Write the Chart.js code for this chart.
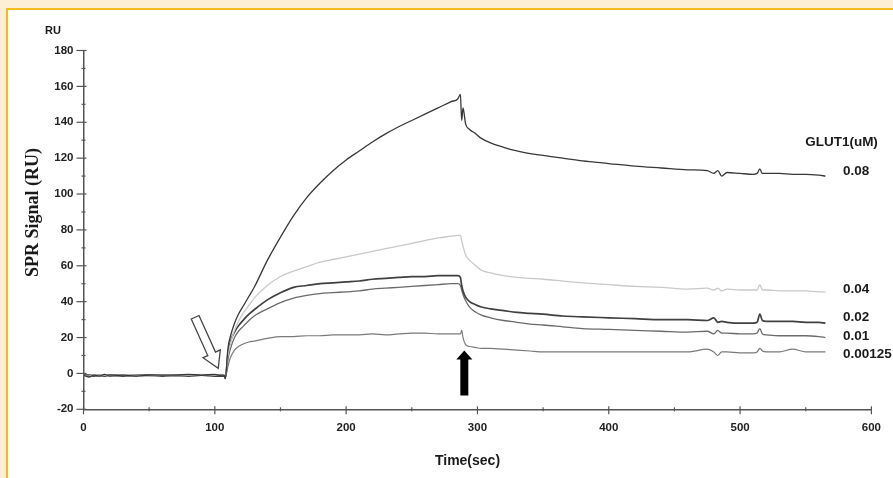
<!DOCTYPE html>
<html>
<head>
<meta charset="utf-8">
<title>SPR Signal</title>
<script src="https://cdn.jsdelivr.net/npm/chart.js@4.4.1/dist/chart.umd.min.js"></script>
<style>
  html, body { margin: 0; padding: 0; }
  #wrap { position: relative; width: 893px; height: 478px; background: #fcefd5; overflow: hidden; }
  #panel { position: absolute; left: 6px; top: 8px; right: 0; bottom: 0; background: #fff;
           border-left: 2px solid #f2bc1c; border-top: 2px solid #f2bc1c; }
  #chart { position: absolute; left: 0; top: 0; }
</style>
</head>
<body>
<div id="wrap">
  <div id="panel"></div>
  <canvas id="chart" width="893" height="478"></canvas>
</div>
<script>
// time points (sec)
const time = [0, 4, 8, 12, 16, 20, 30, 40, 50, 60, 70, 80, 90, 100, 104, 107, 108,
  110, 112, 115, 118, 122, 126, 130,
  140, 150, 160, 170, 180, 190, 200, 210, 220, 230, 240, 250, 260, 270, 280,
  285, 287, 288, 289, 291, 294, 298, 303,
  310, 320, 330, 340, 350,
  365, 380, 400, 420, 440, 460,
  475, 480, 483, 486, 490,
  500, 510, 513, 515, 517, 520,
  530, 540, 550, 560, 565];

// SPR response (RU) for each GLUT1 concentration
const glut008 = [-1, -2, -1, -1.5, -0.5, -1.5, -1, -1.5, -1, -1, -1, -0.5, -1, -0.5, -1, -1, -3,
  14, 21, 28, 33, 38, 43, 48,
  63, 76, 88, 98, 106, 113, 119, 124, 129, 133.5, 137.5, 141, 144.5, 148, 151.5,
  153, 155.5, 141, 148, 139, 136, 134, 131,
  128.5, 126, 124, 122.5, 121.5,
  120, 118.5, 117, 115.5, 114.5, 113.5,
  113, 111.5, 113, 110, 112,
  111.5, 111, 111.5, 114, 111.5, 111.5,
  111.5, 111, 111, 110.5, 110];

const glut004 = [-1, -1.5, -1, -1, -1, -1.5, -1, -1, -1.5, -1, -1, -1, -0.5, -1, -0.5, -1, -2.5,
  10, 17, 24, 29, 34, 38, 42,
  49, 54, 57, 59.5, 62, 63.5, 65, 66.5, 68, 69.5, 71, 72.5, 74, 75.5, 76.5,
  77, 77, 74, 71, 66, 63, 60.5, 57.5,
  56, 54.5, 53.5, 53, 52.5,
  51.5, 50.5, 49.5, 48.5, 48, 47,
  47.5, 46.5, 47.5, 46, 47,
  46.5, 46.5, 46.5, 49.5, 46.5, 46.5,
  46, 46, 46, 45.5, 45.5];

const glut002 = [-1, -1, -1.5, -1, -1.5, -1, -1.5, -1, -1, -1.5, -1, -1.5, -1, -1.5, -1.5, -1.5, -2.5,
  11, 18, 23, 26.5, 30, 33, 35.5,
  41, 45, 48, 49, 50, 50.5, 51, 51.5, 52.5, 53, 53.5, 54, 54, 54.5, 54.5,
  54.5, 53.5, 49, 46, 42.5, 40, 38.5, 37,
  36, 35, 34, 33.5, 33,
  32, 31.5, 31, 30.5, 30, 30,
  29.5, 31, 28.5, 29, 28.5,
  28, 28, 28.5, 33, 29.5, 29,
  29, 29, 28.5, 28.5, 28];

const glut001 = [-1, -1.5, -1, -1, -1.5, -1, -1, -1.5, -1, -1, -1.5, -1, -1, -1, -1, -1.5, -2.5,
  8, 14, 20, 23.5, 26.5, 29.5, 32,
  36, 39.5, 42, 43.5, 44.5, 45, 45.5, 46, 47, 47.5, 48, 48.5, 49, 49.5, 50,
  50, 49, 46.5, 44, 40.5, 37, 34.5, 32.5,
  31, 29.5, 28.5, 27.5, 27,
  26, 25, 24.5, 24, 23.5, 23,
  23.5, 22, 24, 22.5, 22.5,
  22, 22, 22.5, 25, 22, 21.5,
  21, 21, 21, 20.5, 20];

const glut000125 = [-1, -1, -1, -1.5, -1, -1, -1, -1, -1.5, -1, -1, -1, -1, -1, -1, -1, -2,
  4, 9, 13, 15, 16.5, 17.5, 18,
  19.5, 20.5, 20.5, 21, 21, 21.5, 21.5, 21.5, 22, 21.5, 22, 22.5, 22.5, 22, 22,
  22, 22, 24, 20, 16, 15, 14.5, 14,
  14, 13.5, 13, 12.5, 12,
  12, 12, 12, 12, 12, 12,
  13.5, 12, 10, 12, 12,
  11.5, 11.5, 12, 14, 12.5, 12,
  12, 13.5, 12, 12, 12];

const seriesLabels = ['0.08', '0.04', '0.02', '0.01', '0.00125'];
const seriesValues = [glut008, glut004, glut002, glut001, glut000125];
const lineColors = ['#383838', '#c9c9c9', '#404040', '#6b6b6b', '#7a7a7a'];
const lineWidths = [1.3, 1.3, 1.7, 1.3, 1.2];

// where the concentration labels sit on the right (RU)
const endLabelAt = [112.4, 47, 31.2, 20.9, 10.8];

const datasets = seriesValues.map(function(vals, i) {
  return {
    label: seriesLabels[i],
    data: time.map(function(t, j) { return { x: t, y: vals[j] }; }),
    borderColor: lineColors[i],
    borderWidth: lineWidths[i],
    pointRadius: 0,
    cubicInterpolationMode: 'monotone',
    fill: false
  };
});

const tickFont = { family: 'Liberation Sans, Arial, sans-serif', size: 11.5, weight: 'bold' };

function drawArrow(ctx, tail, tip, shaftW, headW, headL, fillColor, strokeColor) {
  const dx = tip.x - tail.x, dy = tip.y - tail.y;
  const len = Math.sqrt(dx * dx + dy * dy);
  const ux = dx / len, uy = dy / len;
  const nx = -uy, ny = ux;
  const bx = tip.x - ux * headL, by = tip.y - uy * headL;
  ctx.beginPath();
  ctx.moveTo(tail.x + nx * shaftW / 2, tail.y + ny * shaftW / 2);
  ctx.lineTo(bx + nx * shaftW / 2, by + ny * shaftW / 2);
  ctx.lineTo(bx + nx * headW / 2, by + ny * headW / 2);
  ctx.lineTo(tip.x, tip.y);
  ctx.lineTo(bx - nx * headW / 2, by - ny * headW / 2);
  ctx.lineTo(bx - nx * shaftW / 2, by - ny * shaftW / 2);
  ctx.lineTo(tail.x - nx * shaftW / 2, tail.y - ny * shaftW / 2);
  ctx.closePath();
  ctx.fillStyle = fillColor;
  ctx.fill();
  if (strokeColor) {
    ctx.strokeStyle = strokeColor;
    ctx.lineWidth = 1.3;
    ctx.stroke();
  }
}

const decorPlugin = {
  id: 'decor',
  afterDraw: function(chart) {
    const ctx = chart.ctx;
    const xs = chart.scales.x, ys = chart.scales.y;
    const area = chart.chartArea;
    ctx.save();

    // tick marks crossing the axes
    ctx.strokeStyle = '#555';
    ctx.lineWidth = 1.2;
    for (let v = 0; v <= 600; v += 50) {
      const px = xs.getPixelForValue(v);
      const major = v % 100 === 0;
      ctx.beginPath();
      ctx.moveTo(px, area.bottom - (major ? 3 : 2));
      ctx.lineTo(px, area.bottom + (major ? 5 : 2));
      ctx.stroke();
    }
    for (let v = -20; v <= 180; v += 10) {
      const py = ys.getPixelForValue(v);
      const major = v % 20 === 0;
      ctx.beginPath();
      ctx.moveTo(area.left - (major ? 7 : 2), py);
      ctx.lineTo(area.left + (major ? 3 : 2), py);
      ctx.stroke();
    }

    // texts
    ctx.fillStyle = '#1a1a1a';
    ctx.font = 'bold 11px Liberation Sans, Arial, sans-serif';
    ctx.textAlign = 'center';
    ctx.textBaseline = 'middle';
    ctx.fillText('RU', 53, 31);

    ctx.font = 'bold 14px Liberation Sans, Arial, sans-serif';
    ctx.fillText('Time(sec)', 467.5, 461);

    ctx.save();
    ctx.translate(37.5, 212.5);
    ctx.rotate(-Math.PI / 2);
    ctx.textBaseline = 'alphabetic';
    ctx.font = 'bold 18px Liberation Serif, Times New Roman, serif';
    ctx.fillText('SPR Signal (RU)', 0, 0);
    ctx.restore();

    ctx.font = 'bold 13.5px Liberation Sans, Arial, sans-serif';
    ctx.fillText('GLUT1(uM)', 841.5, 142);
    ctx.textAlign = 'left';
    ctx.font = 'bold 13.5px Liberation Sans, Arial, sans-serif';
    seriesLabels.forEach(function(lbl, i) {
      ctx.fillText(lbl, 843, ys.getPixelForValue(endLabelAt[i]));
    });

    // injection start (hollow) and dissociation start (filled) arrows
    drawArrow(ctx,
      { x: xs.getPixelForValue(85), y: ys.getPixelForValue(31.3) },
      { x: xs.getPixelForValue(102.6), y: ys.getPixelForValue(2.8) },
      8.5, 19, 16, '#ffffff', '#444');
    drawArrow(ctx,
      { x: xs.getPixelForValue(290), y: ys.getPixelForValue(-12.3) },
      { x: xs.getPixelForValue(290), y: ys.getPixelForValue(12.8) },
      8, 16, 9, '#000000', null);

    ctx.restore();
  }
};

const ctx = document.getElementById('chart').getContext('2d');
const sprChart = new Chart(ctx, {
  type: 'line',
  data: { datasets: datasets },
  options: {
    responsive: false,
    animation: false,
    layout: { padding: { top: 50.5, right: 12.5, left: 0, bottom: 0 } },
    scales: {
      x: {
        type: 'linear',
        min: 0,
        max: 600,
        afterFit: function(scale) { scale.height = 68.7; },
        ticks: { stepSize: 100, font: tickFont, color: '#222', padding: 12, maxRotation: 0 },
        grid: { drawOnChartArea: false, drawTicks: false, color: 'rgba(0,0,0,0)' },
        border: { display: true, color: '#555', width: 1.5 }
      },
      y: {
        min: -20,
        max: 180,
        afterFit: function(scale) { scale.width = 83.5; },
        ticks: { stepSize: 20, font: tickFont, color: '#222', padding: 10 },
        grid: { drawOnChartArea: false, drawTicks: false, color: 'rgba(0,0,0,0)' },
        border: { display: true, color: '#555', width: 1.5 }
      }
    },
    plugins: {
      legend: { display: false },
      tooltip: { enabled: false }
    }
  },
  plugins: [decorPlugin]
});
</script>
</body>
</html>
